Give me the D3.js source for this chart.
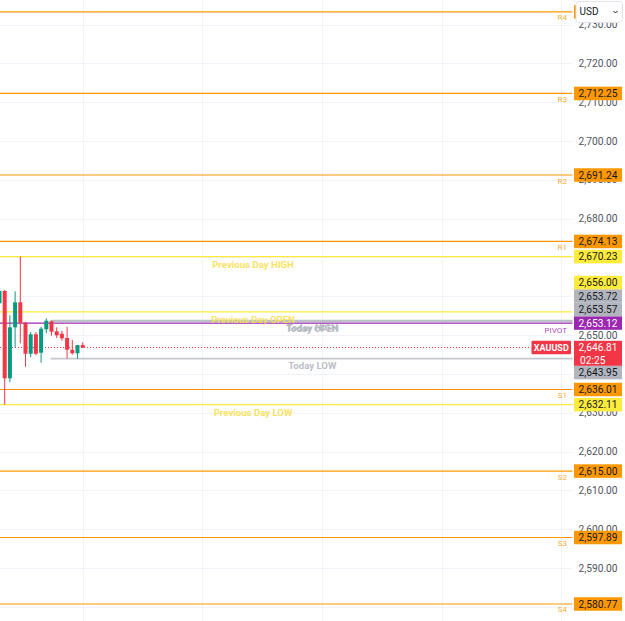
<!DOCTYPE html>
<html><head><meta charset="utf-8">
<script src="https://cdn.jsdelivr.net/npm/d3@7"></script>
<style>
html,body{margin:0;padding:0;background:#fff;overflow:hidden}
svg{display:block;font-family:Roboto,"DejaVu Sans",sans-serif}
</style></head>
<body>
<svg id="c" width="625" height="621"></svg>
<script>
// ---- data ----
const candleOpen  = [2658.20, 2661.40, 2638.89, 2652.02, 2658.46, 2653.21, 2645.22, 2650.22, 2645.48, 2651.51, 2653.57, 2650.99, 2650.37, 2649.27, 2646.25, 2645.33, 2647.46];
const candleHigh  = [2661.60, 2661.60, 2655.11, 2661.29, 2670.23, 2653.40, 2650.81, 2650.80, 2652.18, 2654.34, 2653.72, 2652.02, 2651.15, 2652.18, 2648.75, 2647.50, 2648.16];
const candleLow   = [2657.60, 2632.11, 2637.86, 2646.77, 2647.90, 2641.87, 2644.30, 2644.80, 2642.91, 2650.48, 2649.86, 2649.27, 2648.57, 2644.04, 2645.00, 2643.95, 2646.70];
const candleClose = [2661.40, 2638.89, 2652.02, 2658.46, 2653.21, 2645.22, 2650.22, 2645.22, 2651.66, 2653.72, 2650.89, 2649.96, 2649.19, 2646.25, 2645.33, 2647.46, 2646.81];

const pivotNames  = ["R4", "R3", "R2", "R1", "PIVOT", "S1", "S2", "S3", "S4"];
const pivotValues = [2733.26, 2712.25, 2691.24, 2674.13, 2653.12, 2636.01, 2615.00, 2597.89, 2580.77];

const prevDayNames  = ["Previous Day HIGH", "Previous Day OPEN", "Previous Day LOW"];
const prevDayValues = [2670.23, 2656.00, 2632.11];

const todayNames  = ["Today HIGH", "Today OPEN", "Today LOW"];
const todayValues = [2653.72, 2653.57, 2643.95];
const todayStartIndex = 10;

const symbol = "XAUUSD";
const currentPrice = 2646.81;
const countdown = "02:25";
const currency = "USD";

const yTicks = [2580, 2590, 2600, 2610, 2620, 2630, 2640, 2650, 2660, 2670, 2680, 2690, 2700, 2710, 2720, 2730];
const timeGridIndex = [16, 39, 62, 85, 108];

// ---- layout ----
const W = 625, H = 621, plotRight = 572.5, axisBoxX = 574, axisBoxW = 48;
const svg = d3.select("#c");
const y = d3.scaleLinear().domain([2576.39, 2736.31]).range([H, 0]);
const x = d3.scaleLinear().domain([0, 108]).range([-0.5, 561.1]);
const fmt = d3.format(",.2f");

const C = {
  orange: "#ff9800", yellow: "#ffeb3b", purple: "#9c27b0", gray: "#b2b5be",
  red: "#f23645", green: "#089981", grid: "#f0f3fa", text: "#131722", tick: "#50535e"
};

// grid
const g = svg.append("g");
g.selectAll("line.h").data(yTicks).join("line")
  .attr("x1", 0).attr("x2", plotRight)
  .attr("y1", d => Math.round(y(d)) + 0.5).attr("y2", d => Math.round(y(d)) + 0.5)
  .attr("stroke", C.grid).attr("stroke-width", 1);
g.selectAll("line.v").data(timeGridIndex).join("line")
  .attr("x1", d => Math.round(x(d)) + 0.5).attr("x2", d => Math.round(x(d)) + 0.5)
  .attr("y1", 0).attr("y2", H)
  .attr("stroke", C.grid).attr("stroke-width", 1);

// level lines
function hline(v, x1, color, w, dash) {
  const yy = y(v);
  const l = svg.append("line").attr("x1", x1).attr("x2", plotRight)
    .attr("y1", yy).attr("y2", yy).attr("stroke", color).attr("stroke-width", w);
  if (dash) l.attr("stroke-dasharray", dash);
  return l;
}
pivotValues.forEach((v, i) => hline(v, 0, i === 4 ? C.purple : C.orange, 1.2));
prevDayValues.forEach(v => hline(v, 0, C.yellow, 1.4));
todayValues.forEach(v => hline(v, x(todayStartIndex) - 1, C.gray, 1.8).attr("opacity", 0.75));
hline(currentPrice, 0, C.red, 1, "1,2").attr("x2", 531);

// labels for levels
svg.selectAll("text.pl").data(pivotNames).join("text")
  .attr("x", 567).attr("y", (d, i) => y(pivotValues[i]) + (i === 4 ? 9.5 : 8.5))
  .attr("text-anchor", "end").attr("font-size", 8)
  .attr("fill", (d, i) => i === 4 ? C.purple : C.orange)
  .attr("fill-opacity", 0.85)
  .text(d => d);
svg.selectAll("text.pd").data(prevDayNames).join("text")
  .attr("x", 253).attr("y", (d, i) => y(prevDayValues[i]) + 11.3)
  .attr("text-anchor", "middle").attr("font-size", 9.6).attr("font-weight", "bold")
  .attr("fill", "#f7e04a").attr("fill-opacity", 0.9)
  .text(d => d);
svg.selectAll("text.td").data(todayNames).join("text")
  .attr("x", 312.3).attr("y", (d, i) => y(todayValues[i]) + 10.5)
  .attr("text-anchor", "middle").attr("font-size", 9.6).attr("font-weight", "bold")
  .attr("fill", C.gray).attr("fill-opacity", 0.9)
  .text(d => d);

// candles
const idx = d3.range(candleOpen.length);
const cg = svg.append("g");
cg.selectAll("line").data(idx).join("line")
  .attr("x1", i => x(i)).attr("x2", i => x(i))
  .attr("y1", i => y(candleHigh[i])).attr("y2", i => y(candleLow[i]))
  .attr("stroke", i => candleClose[i] >= candleOpen[i] ? C.green : C.red).attr("stroke-width", 1);
cg.selectAll("rect").data(idx).join("rect")
  .attr("x", i => x(i) - 2).attr("width", 4)
  .attr("y", i => y(Math.max(candleOpen[i], candleClose[i])))
  .attr("height", i => Math.max(1, Math.abs(y(candleOpen[i]) - y(candleClose[i]))))
  .attr("fill", i => candleClose[i] >= candleOpen[i] ? C.green : C.red);

// axis price boxes with stacking (computed first so covered tick labels can be skipped)
const BH = 13.5;
const boxes = [];
pivotValues.forEach((v, i) => boxes.push({v, fill: i === 4 ? C.purple : C.orange, tc: i === 4 ? "#fff" : C.text}));
prevDayValues.forEach(v => boxes.push({v, fill: C.yellow, tc: C.text}));
todayValues.forEach(v => boxes.push({v, fill: C.gray, tc: C.text}));
const curY = y(currentPrice);
const curTop = curY - BH / 2, curBottom = curTop + 25;
const above = boxes.filter(b => b.v > currentPrice).sort((a, b) => a.v - b.v);
const below = boxes.filter(b => b.v < currentPrice).sort((a, b) => b.v - a.v);
let edge = curTop;
above.forEach(b => { b.cy = Math.min(y(b.v), edge - BH / 2); edge = b.cy - BH / 2; });
edge = curBottom;
below.forEach(b => { b.cy = Math.max(y(b.v), edge + BH / 2); edge = b.cy + BH / 2; });
const spans = above.concat(below).map(b => [b.cy - BH / 2, b.cy + BH / 2]);
spans.push([curTop, curBottom]);
const covered = v => spans.some(s => s[0] <= y(v) - 3.5 && s[1] >= y(v) + 3.5);

// axis tick labels
svg.append("g").selectAll("text").data(yTicks.filter(v => !covered(v))).join("text")
  .attr("x", 598).attr("y", d => y(d) + 3.6)
  .attr("text-anchor", "middle").attr("font-size", 10.2).attr("fill", C.tick)
  .text(d => fmt(d));

const bg = svg.append("g");
const bsel = bg.selectAll("g").data(above.concat(below)).join("g");
bsel.append("rect").attr("x", axisBoxX).attr("width", axisBoxW)
  .attr("y", b => b.cy - BH / 2).attr("height", BH).attr("fill", b => b.fill);
bsel.append("text").attr("x", 598).attr("y", b => b.cy + 3.6)
  .attr("text-anchor", "middle").attr("font-size", 10.2).attr("fill", b => b.tc)
  .text(b => fmt(b.v));

// current price box
bg.append("rect").attr("x", axisBoxX).attr("width", axisBoxW)
  .attr("y", curTop).attr("height", 25).attr("fill", C.red);
bg.append("text").attr("x", 598).attr("y", curY + 3.6).attr("text-anchor", "middle")
  .attr("font-size", 10.2).attr("fill", "#fff").text(fmt(currentPrice));
bg.append("text").attr("x", 580).attr("y", curY + 16.3).attr("text-anchor", "start")
  .attr("font-size", 10.2).attr("fill", "#fff").text(countdown);

// symbol label
svg.append("rect").attr("x", 531.5).attr("y", curTop).attr("width", 39.5).attr("height", BH)
  .attr("fill", C.red).attr("rx", 1);
svg.append("text").attr("x", 551.3).attr("y", curY + 3.3).attr("text-anchor", "middle")
  .attr("font-size", 9).attr("font-weight", "bold").attr("fill", "#fff").text(symbol);

// currency dropdown
svg.append("rect").attr("x", 576).attr("y", 1.5).attr("width", 46.5).attr("height", 21)
  .attr("rx", 3).attr("fill", "#fff").attr("stroke", "#e0e3eb");
svg.append("text").attr("x", 579.5).attr("y", 15.2).attr("font-size", 10)
  .attr("fill", C.text).text(currency);
svg.append("path").attr("d", "M613.5,11 L615.5,13 L617.5,11")
  .attr("fill", "none").attr("stroke", C.text).attr("stroke-width", 1);
</script>
</body></html>
